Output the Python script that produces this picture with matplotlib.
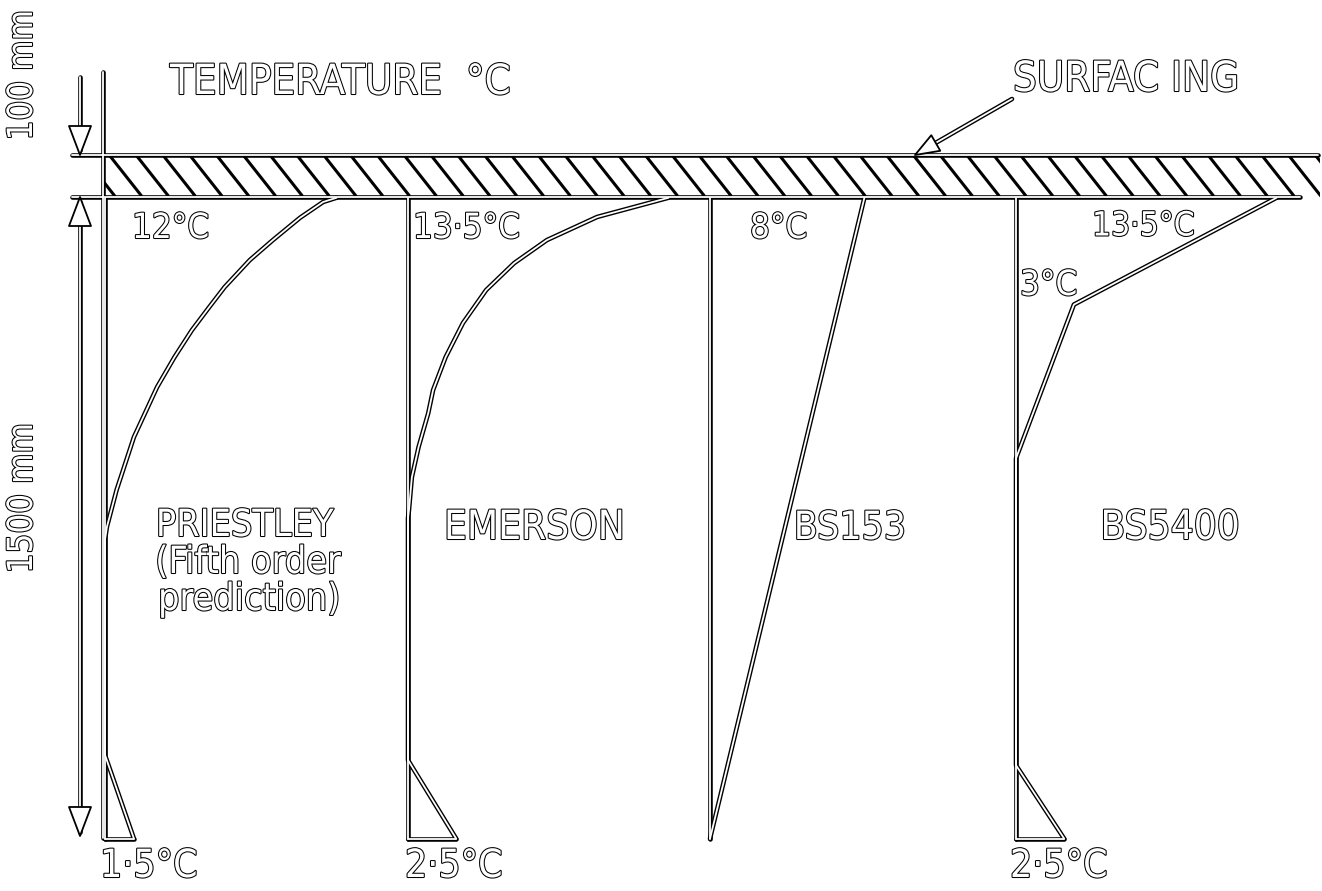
import numpy as np
import matplotlib.pyplot as plt
import matplotlib.patheffects as pe
from matplotlib.patches import Polygon, Rectangle
from matplotlib.transforms import Affine2D

# Temperature difference profiles through a 1500 mm deck under 100 mm surfacing
# depth measured from the road surface (mm), temperature difference (deg C)
priestley_depth = [100, 110, 147, 199, 246, 309, 356, 410, 473, 543, 660, 784, 870, 900, 1404, 1600]
priestley_temp = [12.0, 11.3, 10.1, 8.7, 7.5, 6.2, 5.4, 4.5, 3.6, 2.7, 1.5, 0.6, 0.1, 0.0, 0.0, 1.5]

emerson_depth = [100, 145, 199, 253, 316, 393, 473, 550, 604, 683, 754, 831, 850, 1416, 1600]
emerson_temp = [13.5, 9.8, 7.2, 5.5, 4.05, 2.85, 1.95, 1.3, 1.05, 0.55, 0.2, 0.05, 0.0, 0.0, 2.5]

bs153_depth = [100, 1600]
bs153_temp = [8.0, 0.0]

bs5400_depth = [100, 350, 710, 1428, 1600]
bs5400_temp = [13.5, 3.0, 0.0, 0.0, 2.5]

FONT = 'DejaVu Sans'

fig = plt.figure(figsize=(13.22, 8.91), dpi=100)
ax = fig.add_axes([0, 0, 1, 1])
ax.set_xlim(0, 1322)
ax.set_ylim(891, 0)
ax.axis('off')

px_per_degc = 19.3
px_per_mm = 641 / 1500
surface_y = 155


def panel(x0):
    return Affine2D().scale(px_per_degc, px_per_mm).translate(x0, surface_y) + ax.transData


def trace(x, y, tr=None):
    tr = ax.transData if tr is None else tr
    kw = dict(transform=tr, solid_capstyle='round', solid_joinstyle='round')
    ax.plot(x, y, color='black', lw=3.3, zorder=2, **kw)
    ax.plot(x, y, color='white', lw=1.3, zorder=3, **kw)


def label(x, y, s, size=24, rotation=0, ha='left'):
    ax.text(x, y, s, fontsize=size, color='white', ha=ha, va='center',
            rotation=rotation, family=FONT, fontstretch='condensed', zorder=5,
            path_effects=[pe.withStroke(linewidth=1.5, foreground='black')])


def head(tip, direction, length=29, half=11):
    d = np.asarray(direction, float)
    d = d / np.hypot(*d)
    n = np.array([-d[1], d[0]])
    tip = np.asarray(tip, float)
    base = tip - d * length
    pts = [tip, base + n * half, base - n * half]
    ax.add_patch(Polygon(pts, closed=True, facecolor='white', edgecolor='black',
                         lw=1.3, zorder=4, joinstyle='round'))


# surfacing band with hatching
band = Rectangle((105, 155), 1215, 42, transform=ax.transData)
for hx in np.arange(84, 1330, 26.8):
    ln, = ax.plot([hx, hx + 30], [157, 195], color='black', lw=2.2, zorder=1.5)
    ln.set_clip_path(band)
trace([72, 1318], [155, 155])
trace([72, 1300], [197, 197])

# dimension lines on the left
trace([103, 103], [72, 838])
trace([80, 80], [77, 150])
head((80, 155), (0, 1))
trace([80, 80], [202, 832])
head((80, 197), (0, -1))
head((80, 836), (0, 1))
label(22, 75, '100 mm', size=25, rotation=90, ha='center')
label(22, 498, '1500 mm', size=25, rotation=90, ha='center')

# temperature profiles
profiles = [
    (105, priestley_depth, priestley_temp),
    (408, emerson_depth, emerson_temp),
    (710, bs153_depth, bs153_temp),
    (1016, bs5400_depth, bs5400_temp),
]
for x0, depth, temp in profiles:
    tr = panel(x0)
    trace(temp, depth, tr)
    trace([0, 0], [depth[0], depth[-1]], tr)
    trace([0, temp[-1]], [depth[-1], depth[-1]], tr)

# titles and annotations
label(170, 82, 'TEMPERATURE  °C', size=30)
label(1013, 79, 'SURFAC ING', size=30)
trace([1012, 932], [99, 145])
head((915, 155), (-97, 56), length=24, half=9)

label(132, 228, '%g°C' % priestley_temp[0], size=25)
label(413, 228, '13·5°C', size=25)
label(750, 228, '%g°C' % bs153_temp[0], size=25)
label(1092, 226, '13·5°C', size=24)
label(1020, 285, '%g°C' % bs5400_temp[1], size=25)

label(245, 526, 'PRIESTLEY', size=27, ha='center')
label(248, 563, '(Fifth order', size=27, ha='center')
label(249, 600, 'prediction)', size=27, ha='center')
label(534, 528, 'EMERSON', size=29, ha='center')
label(850, 528, 'BS153', size=28, ha='center')
label(1170, 528, 'BS5400', size=29, ha='center')

label(100, 866, '1·5°C', size=28)
label(405, 866, '2·5°C', size=28)
label(1010, 866, '2·5°C', size=28)

fig.savefig('out.png', dpi=100, facecolor='white')
